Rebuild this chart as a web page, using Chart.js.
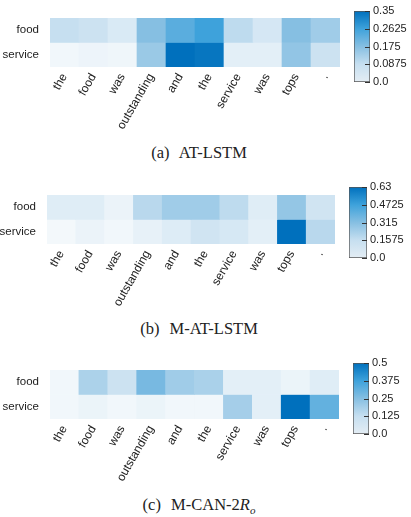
<!DOCTYPE html>
<html>
<head>
<meta charset="utf-8">
<script src="https://cdn.jsdelivr.net/npm/chart.js@4.4.0/dist/chart.umd.min.js"></script>
<style>
  body { margin: 0; background: #fff; width: 411px; height: 517px; position: relative; overflow: hidden; }
  canvas { position: absolute; }
  .cap { position: absolute; left: 0; width: 398px; text-align: center; font-family: "Liberation Serif", "DejaVu Serif", serif; font-size: 16.5px; color: #222; line-height: 18px; }
  .cap span { margin-right: 6px; }
</style>
</head>
<body>
<canvas id="heatA" style="left:0;top:0" width="345" height="140"></canvas>
<canvas id="barA" style="left:354px;top:1px" width="57" height="91"></canvas>
<div class="cap" style="top:144px"><span>(a)</span> AT-LSTM</div>

<canvas id="heatB" style="left:0;top:177px" width="340" height="140"></canvas>
<canvas id="barB" style="left:349px;top:177px" width="62" height="91"></canvas>
<div class="cap" style="top:320px"><span>(b)</span> M-AT-LSTM</div>

<canvas id="heatC" style="left:0;top:352px" width="344" height="140"></canvas>
<canvas id="barC" style="left:353px;top:353px" width="58" height="91"></canvas>
<div class="cap" style="top:496px"><span>(c)</span> M-CAN-2<i>R</i><sub style="font-size:11px"><i>o</i></sub></div>

<script>
const words = ['the', 'food', 'was', 'outstanding', 'and', 'the', 'service', 'was', 'tops', '.'];
const rowLabels = ['food', 'service'];

// (a) AT-LSTM
const atFood = [0.088, 0.077, 0.053, 0.175, 0.228, 0.263, 0.098, 0.06, 0.175, 0.14];
const atService = [0.01, 0.018, 0.014, 0.147, 0.35, 0.34, 0.035, 0.035, 0.158, 0.077];
const atMax = 0.35;
const atTicks = ['0.0', '0.0875', '0.175', '0.2625', '0.35'];

// (b) M-AT-LSTM
const matFood = [0.076, 0.076, 0.038, 0.19, 0.25, 0.25, 0.176, 0.076, 0.28, 0.126];
const matService = [0.013, 0.038, 0.019, 0.05, 0.082, 0.126, 0.107, 0.063, 0.63, 0.19];
const matMax = 0.63;
const matTicks = ['0.0', '0.1575', '0.315', '0.4725', '0.63'];

// (c) M-CAN-2Ro
const canFood = [0.015, 0.175, 0.11, 0.275, 0.2, 0.18, 0.05, 0.05, 0.03, 0.06];
const canService = [0.015, 0.03, 0.015, 0.03, 0.015, 0.015, 0.19, 0.05, 0.5, 0.31];
const canMax = 0.5;
const canTicks = ['0.0', '0.125', '0.25', '0.375', '0.5'];

const stops = [
  [0, [247, 250, 252]],
  [0.25, [198, 223, 240]],
  [0.5, [134, 191, 226]],
  [0.75, [62, 162, 219]],
  [1, [0, 112, 189]]
];

function cmap(t) {
  t = Math.max(0, Math.min(1, t));
  for (let i = 1; i < stops.length; i++) {
    if (t <= stops[i][0]) {
      const a = stops[i - 1], b = stops[i];
      const f = (t - a[0]) / (b[0] - a[0]);
      const c = a[1].map((v, k) => Math.round(v + (b[1][k] - v) * f));
      return 'rgb(' + c.join(',') + ')';
    }
  }
  return 'rgb(' + stops[stops.length - 1][1].join(',') + ')';
}

const family = '"Liberation Sans", Arial, sans-serif';

function heatmap(id, food, service, vmax, yWidth) {
  new Chart(document.getElementById(id), {
    type: 'bar',
    data: {
      labels: words,
      datasets: [
        { label: rowLabels[0], data: food.map(() => [1, 2]), backgroundColor: food.map(v => cmap(v / vmax)) },
        { label: rowLabels[1], data: service.map(() => [0, 1]), backgroundColor: service.map(v => cmap(v / vmax)) }
      ]
    },
    options: {
      responsive: false,
      animation: false,
      layout: { padding: { top: 10, right: 5, left: 0, bottom: 0 } },
      plugins: { legend: { display: false }, tooltip: { enabled: false } },
      datasets: { bar: { categoryPercentage: 1, barPercentage: 1, grouped: false, borderWidth: 0 } },
      scales: {
        x: {
          grid: { display: false, drawTicks: false },
          border: { display: false },
          ticks: { autoSkip: false, minRotation: 60, maxRotation: 60, padding: 4, color: '#222',
                   font: { family: family, size: 12 } },
          afterFit: s => { s.height = 73; }
        },
        y: {
          min: 0, max: 2,
          grid: { display: false, drawTicks: false },
          border: { display: false },
          afterBuildTicks: s => { s.ticks = [{ value: 1.5 }, { value: 0.5 }]; },
          ticks: { padding: 11, color: '#222', font: { family: family, size: 11.5 },
                   callback: v => v > 1 ? rowLabels[0] : rowLabels[1] },
          afterFit: s => { s.width = yWidth; }
        }
      }
    }
  });
}

const innerTicks = {
  id: 'innerTicks',
  afterDatasetsDraw(chart) {
    const s = chart.scales.y, c = chart.ctx, r = chart.chartArea.right;
    c.save();
    c.strokeStyle = '#333';
    c.lineWidth = 1;
    s.ticks.forEach(t => {
      const y = Math.round(s.getPixelForValue(t.value)) + 0.5;
      c.beginPath(); c.moveTo(r - 5, y); c.lineTo(r, y); c.stroke();
    });
    c.restore();
  }
};

function colorbar(id, vmax, labels, barWidth) {
  new Chart(document.getElementById(id), {
    type: 'bar',
    data: {
      labels: [''],
      datasets: [{
        data: [vmax],
        borderColor: '#555',
        borderWidth: 1,
        borderSkipped: false,
        backgroundColor: ctx => {
          const area = ctx.chart.chartArea;
          if (!area) return '#ccc';
          const g = ctx.chart.ctx.createLinearGradient(0, area.bottom, 0, area.top);
          g.addColorStop(0, 'rgb(228,237,244)');
          stops.slice(1).forEach(st => g.addColorStop(st[0], 'rgb(' + st[1].join(',') + ')'));
          return g;
        }
      }]
    },
    options: {
      responsive: false,
      animation: false,
      layout: { padding: { top: 10, bottom: 10, left: 0, right: 0 } },
      plugins: { legend: { display: false }, tooltip: { enabled: false } },
      datasets: { bar: { categoryPercentage: 1, barPercentage: 1 } },
      scales: {
        x: { display: false },
        y: {
          position: 'right',
          min: 0, max: vmax,
          grid: { display: false, drawTicks: false },
          border: { display: false },
          afterBuildTicks: s => { s.ticks = labels.map((l, i) => ({ value: vmax * i / (labels.length - 1) })); },
          ticks: { padding: 3, color: '#222', font: { family: family, size: 11 },
                   callback: (v, i) => labels[i] },
          afterFit: s => { s.width = s.chart.width - barWidth; }
        }
      }
    },
    plugins: [innerTicks]
  });
}

heatmap('heatA', atFood, atService, atMax, 50);
colorbar('barA', atMax, atTicks, 16);
heatmap('heatB', matFood, matService, matMax, 47);
colorbar('barB', matMax, matTicks, 18);
heatmap('heatC', canFood, canService, canMax, 50);
colorbar('barC', canMax, canTicks, 16);
</script>
</body>
</html>
